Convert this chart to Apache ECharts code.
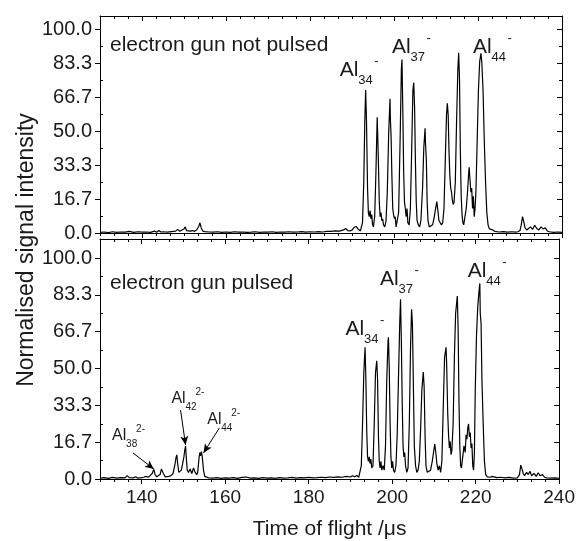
<!DOCTYPE html>
<html><head><meta charset="utf-8">
<script src="https://cdn.jsdelivr.net/npm/echarts@6/dist/echarts.min.js"></script>
<style>html,body{margin:0;padding:0;background:#fff}#c{width:578px;height:541px}</style>
</head><body><div id="c"></div>
<script>
// ---------- data ----------
const xTickValues = [140, 160, 180, 200, 220, 240];
const xTickLabels = ['140', '160', '180', '200', '220', '240'];
const yTickValues = [0, 100/6, 200/6, 50, 400/6, 500/6, 100];
const yTickLabels = ['0.0', '16.7', '33.3', '50.0', '66.7', '83.3', '100.0'];
const panelTitles = ['electron gun not pulsed', 'electron gun pulsed'];
const xTitle = 'Time of flight /\u03bcs';
const yTitle = 'Normalised signal intensity';

// electron gun not pulsed: [time / us, signal]
const spectrumNotPulsed = [
 [130,0.3],[131,0.5],[132,0.2],[133,0.6],[134,0.3],[135,0.5],[136,0.4],[137,0.8],[138,0.3],[139,0.6],
 [140,0.4],[141,0.5],[142,0.3],[143,0.9],[143.5,0.4],[144,1.2],[144.5,0.5],[145,0.6],[146,0.4],[147,0.7],
 [148,0.9],[148.5,1.8],[149,0.8],[149.5,1.5],[150,2.0],[150.3,3.0],[150.6,1.2],[151,1.5],[151.5,0.9],[152,1.2],
 [152.5,0.8],[153,1.5],[153.5,3.2],[153.8,5.0],[154.1,2.5],[154.5,0.9],[155,0.7],[156,0.5],[157,0.4],[158,0.6],
 [159,0.3],[160,0.5],[161,0.3],[162,0.6],[163,0.4],[164,0.5],[165,0.3],[166,0.4],[167,0.6],[168,0.3],
 [169,0.5],[170,0.4],[171,0.6],[172,0.3],[173,0.5],[174,0.4],[175,0.6],[176,0.4],[177,0.5],[178,0.7],
 [179,0.4],[180,0.6],[181,0.5],[182,0.7],[183,0.5],[184,0.8],[185,0.8],[186,1.0],[187,0.9],[188,1.5],
 [188.5,2.2],[189,1.2],[189.5,1.0],[190,1.4],[190.5,2.8],[191,3.2],[191.5,1.8],[192,1.0],[192.3,1.5],
 [192.5,5],[192.8,25],[193.05,55],[193.25,70.1],[193.45,55],[193.7,22],[193.9,10],[194.1,8],[194.3,11],[194.5,7],
 [194.7,9],[194.9,4],[195.1,3],[195.4,8],[195.7,30],[196.0,56.7],[196.25,38],[196.5,15],[196.7,8],[196.9,10],
 [197.1,6],[197.3,7],[197.5,4],[197.8,3],[198.1,6],[198.4,20],[198.75,50],[199.05,65.8],[199.15,55],[199.3,48],
 [199.5,28],[199.7,12],[199.9,9],[200.1,7],[200.3,8],[200.5,3],[200.8,3],[201.1,10],[201.45,45],[201.75,80],
 [201.9,85.1],[202.1,60],[202.3,30],[202.5,15],[202.7,12],[202.9,8],[203.1,12],[203.3,5],[203.6,4],[203.9,12],
 [204.2,40],[204.5,70],[204.7,73.7],[204.9,62],[205.1,35],[205.3,15],[205.5,6],[205.8,4],[206.1,3],[206.4,6],
 [206.8,22],[207.1,42],[207.4,51.3],[207.5,44],[207.7,36],[207.9,15],[208.1,6],[208.4,3],[208.8,3],[209.2,4],
 [209.6,8],[209.9,12],[210.2,15.4],[210.45,11],[210.7,6],[211.0,5],[211.3,4],[211.6,5],[211.9,12],[212.2,35],
 [212.5,58],[212.7,63.6],[212.9,58],[213.1,40],[213.3,28],[213.5,22],[213.7,20],[213.9,16],[214.1,14],[214.3,15],
 [214.6,25],[214.9,55],[215.2,80],[215.4,88.4],[215.6,75],[215.8,40],[216.0,18],[216.2,9],[216.4,5],[216.6,4],
 [216.9,8],[217.2,12],[217.5,20],[217.8,30],[217.9,32.2],[218.1,26],[218.3,20],[218.5,22],[218.7,12],[218.9,18],
 [219.1,8],[219.3,12],[219.5,20],[219.8,45],[220.1,70],[220.4,84],[220.7,88.1],[220.9,84],[221.2,70],[221.5,45],
 [221.8,25],[222.1,10],[222.4,4],[222.7,2],[223,1.2],[223.5,1.5],[224,0.8],[225,0.5],[226,0.7],[227,0.4],
 [228,0.6],[229,0.4],[229.5,0.6],[230,1.2],[230.3,4],[230.6,8],[230.9,5.5],[231.2,2.5],[231.6,1.5],[232,2],
 [232.5,3],[233,1.8],[233.5,3.8],[234,2.2],[234.5,1.5],[235,3],[235.5,2],[236,2.5],[236.5,1],[237,0.6],
 [238,0.3],[239,0.5],[240,0.3]
];

// electron gun pulsed: [time / us, signal]
const spectrumPulsed = [
 [130,0.4],[131,0.6],[132,0.3],[133,0.7],[134,0.4],[135,0.6],[136,0.5],[136.5,1.5],[137,0.6],[138,0.5],
 [138.5,1.0],[139,0.4],[140,0.6],[140.5,0.8],[141,1.2],[141.5,0.8],[142,1.5],[142.5,2.5],[142.9,4.4],[143.2,2],
 [143.6,1],[144,0.8],[144.4,2],[144.7,4.5],[144.9,5.3],[145.2,2.5],[145.6,1],[146,0.8],[146.5,1.2],[147,1.5],
 [147.5,2.5],[147.9,6],[148.2,9.5],[148.4,10.9],[148.6,7],[148.9,3],[149.2,2.5],[149.5,4],[149.8,7],[150.1,10],
 [150.3,13],[150.5,14.9],[150.7,9],[150.9,4],[151.2,3],[151.6,4.5],[152,2.5],[152.4,5],[152.8,3],[153.2,2],
 [153.4,3],[153.7,9],[153.9,12],[154.1,10.5],[154.3,12.4],[154.5,10],[154.8,4],[155.1,1.2],[155.5,0.6],[156,0.5],
 [157,0.4],[158,0.6],[159,0.3],[160,0.5],[161,0.4],[162,0.6],[163,0.3],[164,0.7],[165,0.9],[166,0.4],
 [167,0.5],[168,0.3],[169,0.6],[170,0.4],[171,0.5],[172,0.3],[173,0.6],[174,0.4],[175,0.5],[176,0.7],
 [177,0.4],[178,0.6],[179,0.5],[180,0.7],[181,0.5],[182,0.6],[183,0.8],[184,0.6],[185,0.9],[186,0.7],
 [187,1.0],[188,0.8],[189,1.2],[190,0.9],[190.5,1.5],[191,1.0],[191.5,1.6],[192,0.8],[192.3,1],
 [192.6,6],[192.9,25],[193.2,48],[193.5,59.6],[193.7,45],[193.9,22],[194.1,10],[194.3,8],[194.5,10],[194.7,7],
 [194.9,9],[195.1,5],[195.4,6],[195.7,25],[196.0,48],[196.3,53.5],[196.5,45],[196.7,20],[196.9,8],[197.1,5],
 [197.3,8],[197.5,4],[197.8,6],[198.1,4],[198.4,15],[198.7,45],[199.0,62],[199.1,64.1],[199.3,50],[199.5,25],
 [199.7,10],[199.9,5],[200.1,8],[200.3,4],[200.6,3],[200.9,6],[201.2,20],[201.5,45],[201.8,70],[202.0,81.3],
 [202.2,62],[202.4,35],[202.6,15],[202.8,10],[203.0,12],[203.2,6],[203.5,3],[203.8,5],[204.1,25],[204.4,60],
 [204.65,76.8],[204.85,70],[205.1,40],[205.3,15],[205.6,6],[205.9,3],[206.2,4],[206.5,8],[206.8,22],[207.1,40],
 [207.45,48.4],[207.65,42],[207.9,18],[208.1,6],[208.4,3],[208.8,2.5],[209.2,4],[209.6,8],[209.9,12],[210.2,15.8],
 [210.45,12],[210.7,7],[211.0,4],[211.3,6],[211.6,3],[211.9,8],[212.2,30],[212.55,55],[212.9,59.6],[213.05,52],
 [213.3,30],[213.5,20],[213.7,14],[213.9,17],[214.1,11],[214.3,13],[214.6,25],[214.9,55],[215.2,75],[215.6,82.8],
 [215.8,68],[216.0,35],[216.2,15],[216.4,6],[216.6,5],[216.9,10],[217.2,15],[217.5,12],[217.7,20],[217.9,18],
 [218.1,23],[218.3,24.9],[218.5,19],[218.7,21],[218.9,14],[219.1,16],[219.3,6],[219.5,4],[219.7,12],[219.9,40],
 [220.2,65],[220.5,78],[220.8,85],[221.0,88.5],[221.1,75],[221.3,70],[221.5,45],[221.8,25],[222.1,8],[222.4,2],
 [222.8,1],[223.5,0.8],[224,1.2],[225,0.6],[226,0.8],[227,0.5],[228,0.7],[229,0.4],[230,0.5],[230.5,2],
 [230.8,6.3],[231.1,4.5],[231.4,2.5],[231.7,1.5],[232.2,3],[232.6,2],[233,3.5],[233.4,1.5],[234,2.5],[234.5,1.2],
 [235,2.8],[235.4,1.5],[236,2],[236.5,0.8],[237,0.5],[238,0.4],[239,0.5],[240,0.3]
];

// peak annotations: [panel, main text, subscript, superscript, time, signal, size]
const peakLabels = [
 [0, 'Al', '34', '-', 187.1, 79.9, 'big'],
 [0, 'Al', '37', '-', 199.5, 91.2, 'big'],
 [0, 'Al', '44', '-', 218.8, 91.2, 'big'],
 [1, 'Al', '34', '-', 188.8, 67.9, 'big'],
 [1, 'Al', '37', '-', 197.1, 90.5, 'big'],
 [1, 'Al', '44', '-', 218.1, 94.1, 'big'],
 [1, 'Al', '38', '2-', 132.9, 19.5, 'small'],
 [1, 'Al', '42', '2-', 147.1, 36.2, 'small'],
 [1, 'Al', '44', '2-', 155.7, 26.7, 'small']
];
// arrows in the lower panel: [from time, from signal, to time, to signal]
const arrowsPulsed = [
 [137.9, 11.8, 142.9, 4.5],
 [149.3, 31.2, 150.5, 15.4],
 [158.6, 23.1, 154.8, 11.8]
];

// ---------- chart ----------
const FONT = "'Liberation Sans', Arial, Helvetica, sans-serif";
const chart = echarts.init(document.getElementById('c'), null, {renderer: 'canvas'});
const grids = [
  {left: 100, top: 16, width: 462, height: 217},
  {left: 100, top: 239, width: 462, height: 240}
];
const yMax = [106.4, 108.6];

const xMinor = [];
for (let i = 0; i < xTickValues.length; i++) {
  const b = xTickValues[i] - 20;
  for (let k = 1; k < 6; k++) { const v = b + k * 20 / 6; if (v >= 130 - 1e-6) xMinor.push(v); }
}
xMinor.push(130);
const yMinor = [];
for (let i = 0; i < yTickValues.length - 1; i++) yMinor.push((yTickValues[i] + yTickValues[i+1]) / 2);

const xAxis = [], yAxis = [];
const tickStyle = {color: '#000', width: 1};
function addX(g, position, values, len, inside, showLine, extra) {
  xAxis.push(Object.assign({
    type: 'value', gridIndex: g, min: 130, max: 240, position: position,
    axisLine: {show: showLine, onZero: false, lineStyle: {color: '#000', width: 1}},
    axisTick: {show: true, customValues: values, length: len, inside: inside, lineStyle: tickStyle},
    axisLabel: {show: false}, splitLine: {show: false}
  }, extra || {}));
  return xAxis.length - 1;
}
function addY(g, position, values, len, inside, showLine, extra) {
  yAxis.push(Object.assign({
    type: 'value', gridIndex: g, min: 0, max: yMax[g], position: position,
    axisLine: {show: showLine, onZero: false, lineStyle: {color: '#000', width: 1}},
    axisTick: {show: true, customValues: values, length: len, inside: inside, lineStyle: tickStyle},
    axisLabel: {show: false}, splitLine: {show: false}
  }, extra || {}));
  return yAxis.length - 1;
}
const primX = [], primY = [];
for (let g = 0; g < 2; g++) {
  const xExtra = g === 1 ? {
    axisLabel: {show: true, customValues: xTickValues, margin: 9,
      formatter: v => xTickLabels[xTickValues.indexOf(Math.round(v))] || '',
      fontSize: 19, fontFamily: FONT, color: '#1a1a1a'},
    name: xTitle, nameLocation: 'middle', nameGap: 40,
    nameTextStyle: {fontSize: 21, fontFamily: FONT, color: '#1a1a1a'}
  } : {};
  primX[g] = addX(g, 'bottom', xTickValues, 5, false, true, xExtra);
  addX(g, 'bottom', xMinor, 3, false, false);
  addX(g, 'top', xTickValues, 5, true, true);
  addX(g, 'top', xMinor, 3, true, false);
  primY[g] = addY(g, 'left', yTickValues, 5, false, true, {
    axisLabel: {show: true, customValues: yTickValues, margin: 8,
      formatter: v => { let best = 0; yTickValues.forEach((t, i) => { if (Math.abs(t - v) < Math.abs(yTickValues[best] - v)) best = i; }); return yTickLabels[best]; },
      fontSize: 20, fontFamily: FONT, color: '#1a1a1a'}
  });
  addY(g, 'left', yMinor, 3, true, false);
  addY(g, 'right', yTickValues, 5, true, true);
  addY(g, 'right', yMinor, 3, true, false);
}

const lineStyle = {color: '#000', width: 1.2};
chart.setOption({
  animation: false,
  backgroundColor: '#fff',
  grid: grids,
  xAxis: xAxis,
  yAxis: yAxis,
  series: [
    {type: 'line', xAxisIndex: primX[0], yAxisIndex: primY[0], data: spectrumNotPulsed,
     showSymbol: false, symbol: 'none', lineStyle: lineStyle, silent: true},
    {type: 'line', xAxisIndex: primX[1], yAxisIndex: primY[1], data: spectrumPulsed,
     showSymbol: false, symbol: 'none', lineStyle: lineStyle, silent: true,
     markLine: {silent: true, symbol: ['none', 'arrow'], symbolSize: [6, 9], animation: false,
       lineStyle: {color: '#000', width: 1, type: 'solid'}, label: {show: false},
       data: arrowsPulsed.map(a => [{coord: [a[0], a[1]]}, {coord: [a[2], a[3]]}])}}
  ]
});

// annotations
const gfx = [];
function px(g, t, v) { return chart.convertToPixel({xAxisIndex: primX[g], yAxisIndex: primY[g]}, [t, v]); }
function txt(x, y, text, size, va) {
  gfx.push({type: 'text', x: x, y: y, silent: true,
    style: {text: text, font: size + 'px ' + FONT, fill: '#1a1a1a', align: 'left', verticalAlign: va || 'middle',
            textAlign: 'left', textVerticalAlign: va || 'middle'}});
}
txt(110, 45, panelTitles[0], 21);
txt(110, 283, panelTitles[1], 21);
peakLabels.forEach(p => {
  const pos = px(p[0], p[4], p[5]);
  const big = p[6] === 'big';
  const fs = big ? 21 : 16, fsSub = big ? 13 : 10;
  const w = big ? 18.5 : 14;
  txt(pos[0], pos[1], p[1], fs);
  txt(pos[0] + w, pos[1] + (big ? 10 : 8), p[2], fsSub);
  txt(pos[0] + w + (big ? 16 : 12) - (p[3].length > 1 ? 2 : 0), pos[1] - (big ? 9 : 7), p[3], fsSub);
});
// y-axis title (rotated)
gfx.push({type: 'text', x: 27, y: 250, rotation: Math.PI / 2, silent: true,
  style: {text: yTitle, font: '23px ' + FONT, fill: '#1a1a1a', align: 'center', verticalAlign: 'middle',
          textAlign: 'center', textVerticalAlign: 'middle'}});
chart.setOption({graphic: gfx});
</script></body></html>
